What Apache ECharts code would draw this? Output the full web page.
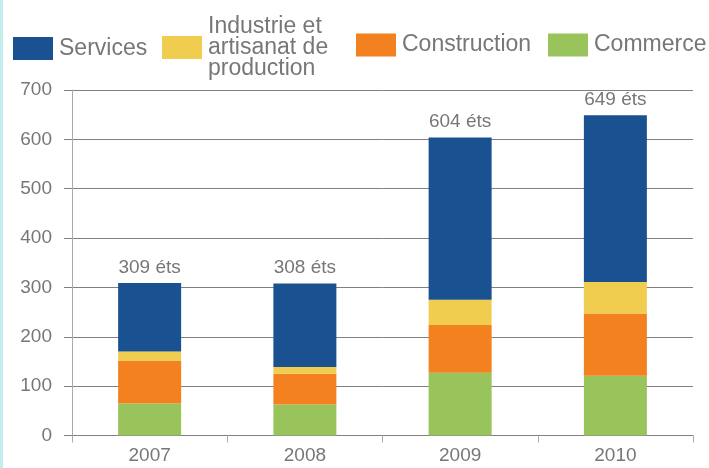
<!DOCTYPE html>
<html>
<head>
<meta charset="utf-8">
<script src="https://cdn.jsdelivr.net/npm/echarts@6/dist/echarts.min.js"></script>
<style>
  html, body { margin: 0; padding: 0; background: #fff; }
  #wrap { position: relative; width: 709px; height: 468px; }
  #edge { position: absolute; left: 0; top: 0; width: 3px; height: 468px; background: #c3eef0; z-index: 2; }
  #chart { width: 709px; height: 468px; }
</style>
</head>
<body>
<div id="wrap">
  <div id="edge"></div>
  <div id="chart"></div>
</div>
<script>
// années
const years = ['2007', '2008', '2009', '2010'];

// établissements par secteur
const commerce = [65, 63, 127, 121];
const construction = [87, 62, 97, 126];
const industrie = [18, 14, 51, 64];
const services = [139, 169, 329, 338];

// totaux affichés au-dessus des barres
const totals = [309, 308, 604, 649];

const sectorNames = ['Services', 'Industrie et\nartisanat de\nproduction', 'Construction', 'Commerce'];

const yTicks = { min: 0, max: 700, interval: 100 };

const textColor = '#777';
const fontFamily = '"Liberation Sans", Arial, Helvetica, sans-serif';

const chart = echarts.init(document.getElementById('chart'));

const bar = (name, values, color, extra) => Object.assign({
  name,
  type: 'bar',
  stack: 'total',
  data: values,
  barWidth: 63,
  itemStyle: { color },
  emphasis: { disabled: true },
}, extra || {});

// une légende par entrée, pour caler chaque élément comme dans l'original
const legendAt = (name, left, top) => ({
  data: [name],
  left,
  top,
  padding: 0,
  itemWidth: 40,
  itemHeight: 23,
  icon: 'rect',
  textStyle: { color: textColor, fontSize: 23, lineHeight: 21, fontFamily, padding: [0, 0, 0, 1] },
});

const option = {
  backgroundColor: '#fff',
  textStyle: { fontFamily },
  animation: false,
  legend: [
    legendAt(sectorNames[0], 13, 37),
    legendAt(sectorNames[1], 162, 15),
    legendAt(sectorNames[2], 356, 33.5),
    legendAt(sectorNames[3], 548, 33.5),
  ],
  grid: { left: 72, right: 16, top: 90, bottom: 32.5 },
  xAxis: {
    type: 'category',
    data: years,
    axisLine: { lineStyle: { color: '#808080', width: 1 } },
    axisTick: { show: true, length: 7, lineStyle: { color: '#aaa' } },
    axisLabel: { color: textColor, fontSize: 19, margin: 11, fontFamily },
  },
  yAxis: {
    type: 'value',
    min: yTicks.min,
    max: yTicks.max,
    interval: yTicks.interval,
    axisLine: { show: true, lineStyle: { color: '#aaa' } },
    axisTick: { show: true, length: 8, lineStyle: { color: '#808080' } },
    axisLabel: { color: textColor, fontSize: 19, margin: 20, fontFamily },
    splitLine: { lineStyle: { color: '#808080' } },
  },
  series: [
    bar(sectorNames[3], commerce, '#99c35b'),
    bar(sectorNames[2], construction, '#f38120'),
    bar(sectorNames[1], industrie, '#f0cd4f'),
    bar(sectorNames[0], services, '#1a5190', {
      label: {
        show: true,
        position: 'top',
        distance: 6,
        color: textColor,
        fontSize: 19,
        fontFamily,
        formatter: p => totals[p.dataIndex] + ' éts',
      },
    }),
  ],
};

chart.setOption(option);
</script>
</body>
</html>
